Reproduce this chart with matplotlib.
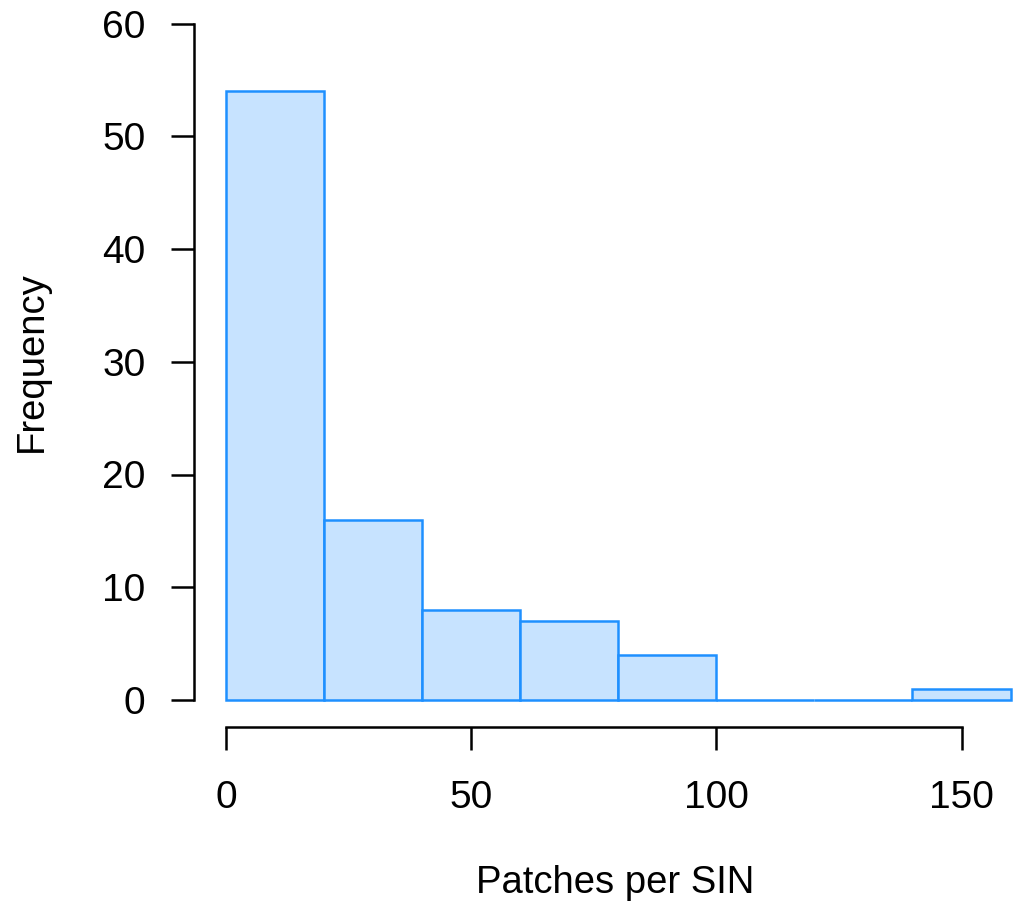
import matplotlib
matplotlib.use("Agg")
import matplotlib.pyplot as plt
import numpy as np

bin_edges = [0, 20, 40, 60, 80, 100, 120, 140, 160]
counts = [54, 16, 8, 7, 4, 0, 0, 1]
xticks = [0, 50, 100, 150]
yticks = [0, 10, 20, 30, 40, 50, 60]
xlabel = "Patches per SIN"
ylabel = "Frequency"

plt.rcParams['font.family'] = ['Liberation Sans', 'DejaVu Sans']
W, H = 1013, 919
dpi = 100
fig = plt.figure(figsize=(W / dpi, H / dpi), dpi=dpi)

# pixel geometry
x0px, x150px = 226.0, 961.5
y0px, y60px = 700.0, 23.5
left_px, bottom_px = 193.5, 727.0
xs = (x150px - x0px) / 150
ys = (y0px - y60px) / 60
xmin = -(x0px - left_px) / xs
xmax = xmin + (W - left_px) / xs
ymin = -(bottom_px - y0px) / ys
ymax = y0px / ys

ax = fig.add_axes([left_px / W, (H - bottom_px) / H, (W - left_px) / W, bottom_px / H])
ax.set_xlim(xmin, xmax)
ax.set_ylim(ymin, ymax)

widths = np.diff(bin_edges)
ax.bar(bin_edges[:-1], counts, width=widths, align='edge',
       color='#C7E3FF', edgecolor='#1E90FF', linewidth=1.8, clip_on=False)

for s in ['top', 'right']:
    ax.spines[s].set_visible(False)
ax.spines['left'].set_bounds(0, 60)
ax.spines['bottom'].set_bounds(0, 150)
for s in ['left', 'bottom']:
    ax.spines[s].set_linewidth(1.8)
ax.set_xticks(xticks)
ax.set_yticks(yticks)
ax.tick_params(length=16.5, width=1.8, labelsize=28)
ax.tick_params(axis='y', pad=18)
ax.tick_params(axis='x', pad=22)
fig.text(615.5 / W, 1 - 893 / H, xlabel, fontsize=27.5, ha='center', va='baseline')
fig.text(42 / W, 1 - 361.5 / H, ylabel, fontsize=27.5, ha='center', va='baseline',
         rotation=90, rotation_mode='anchor')

fig.savefig("out.png", dpi=dpi)
